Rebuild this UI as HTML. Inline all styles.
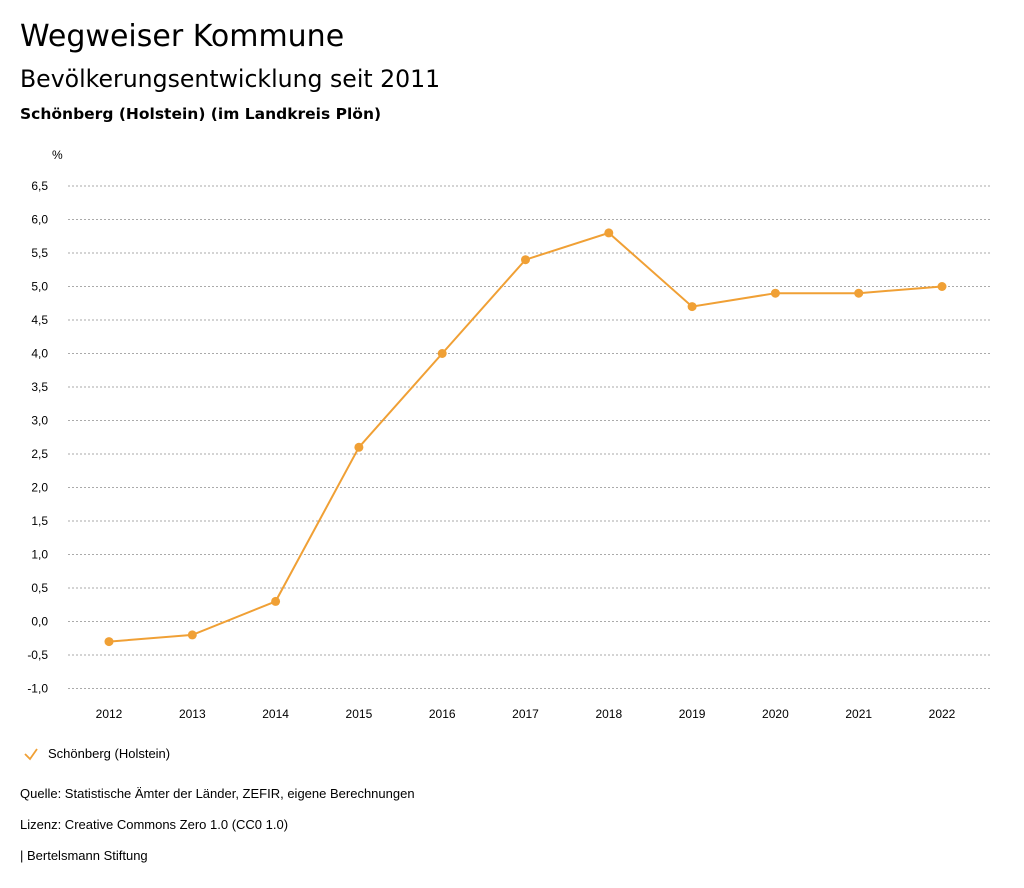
<!DOCTYPE html>
<html><head><meta charset="utf-8"><style>
body{margin:0;background:#fff;font-family:"Liberation Sans","DejaVu Sans",sans-serif;color:#000;}
#wrap{position:relative;width:1024px;height:888px;overflow:hidden;}
.t{position:absolute;white-space:nowrap;}
.d{font-family:"DejaVu Sans","Liberation Sans",sans-serif;}
</style></head><body>
<div id="wrap">
<div class="t d" style="left:20px;top:19px;font-size:30px;">Wegweiser Kommune</div>
<div class="t d" style="left:20px;top:65px;font-size:23.6px;">Bevölkerungsentwicklung seit 2011</div>
<div class="t d" style="left:20px;top:105px;font-size:15.5px;font-weight:bold;">Schönberg (Holstein) (im Landkreis Plön)</div>
<svg id="chart" width="1024" height="888" style="position:absolute;left:0;top:0"></svg>
<div class="t" style="left:48px;top:746px;font-size:13px;">Schönberg (Holstein)</div>
<div class="t" style="left:20px;top:786px;font-size:13px;">Quelle: Statistische Ämter der Länder, ZEFIR, eigene Berechnungen</div>
<div class="t" style="left:20px;top:817px;font-size:13px;">Lizenz: Creative Commons Zero 1.0 (CC0 1.0)</div>
<div class="t" style="left:20px;top:848px;font-size:13px;">| Bertelsmann Stiftung</div>
</div>
<script>
const years=[2012,2013,2014,2015,2016,2017,2018,2019,2020,2021,2022];
const values=[-0.3,-0.2,0.3,2.6,4.0,5.4,5.8,4.7,4.9,4.9,5.0];
const yTicks=[6.5,6.0,5.5,5.0,4.5,4.0,3.5,3.0,2.5,2.0,1.5,1.0,0.5,0.0,-0.5,-1.0];
const NS="http://www.w3.org/2000/svg";
const svg=document.getElementById('chart');
const color="#f0a035";
function y(v){return 621.5-(v)*67;}
function x(i){return 109+i*(942-109)/(years.length-1);}
function mk(tag,attrs){const e=document.createElementNS(NS,tag);for(const k in attrs)e.setAttribute(k,attrs[k]);svg.appendChild(e);return e;}
let u=mk('text',{x:52,y:159,'font-size':12,fill:'#000'});u.textContent='%';


yTicks.forEach(v=>{
 const g=mk('line',{x1:68,x2:990,y1:y(v),y2:y(v),stroke:'#aaa','stroke-dasharray':'2,2','stroke-width':1});
 
 
 const t=mk('text',{x:48,y:y(v)+4,'font-size':12,'text-anchor':'end',fill:'#000'});
 t.textContent=v.toFixed(1).replace('.',',');
 
 
});
years.forEach((yr,i)=>{
 const t=mk('text',{x:x(i),y:718,'font-size':12,'text-anchor':'middle',fill:'#000'});
 t.textContent=yr;
 
 
});
const line=mk('polyline',{points:values.map((v,i)=>x(i)+','+y(v)).join(' '),fill:'none',stroke:color,'stroke-width':2});


values.forEach((v,i)=>{
 const c=mk('circle',{cx:x(i),cy:y(v),r:4.5,fill:color});
 
 
});
const chk=mk('polyline',{points:'25,754 30,759 37,749',fill:'none',stroke:color,'stroke-width':1.8});


</script>
</body></html>
